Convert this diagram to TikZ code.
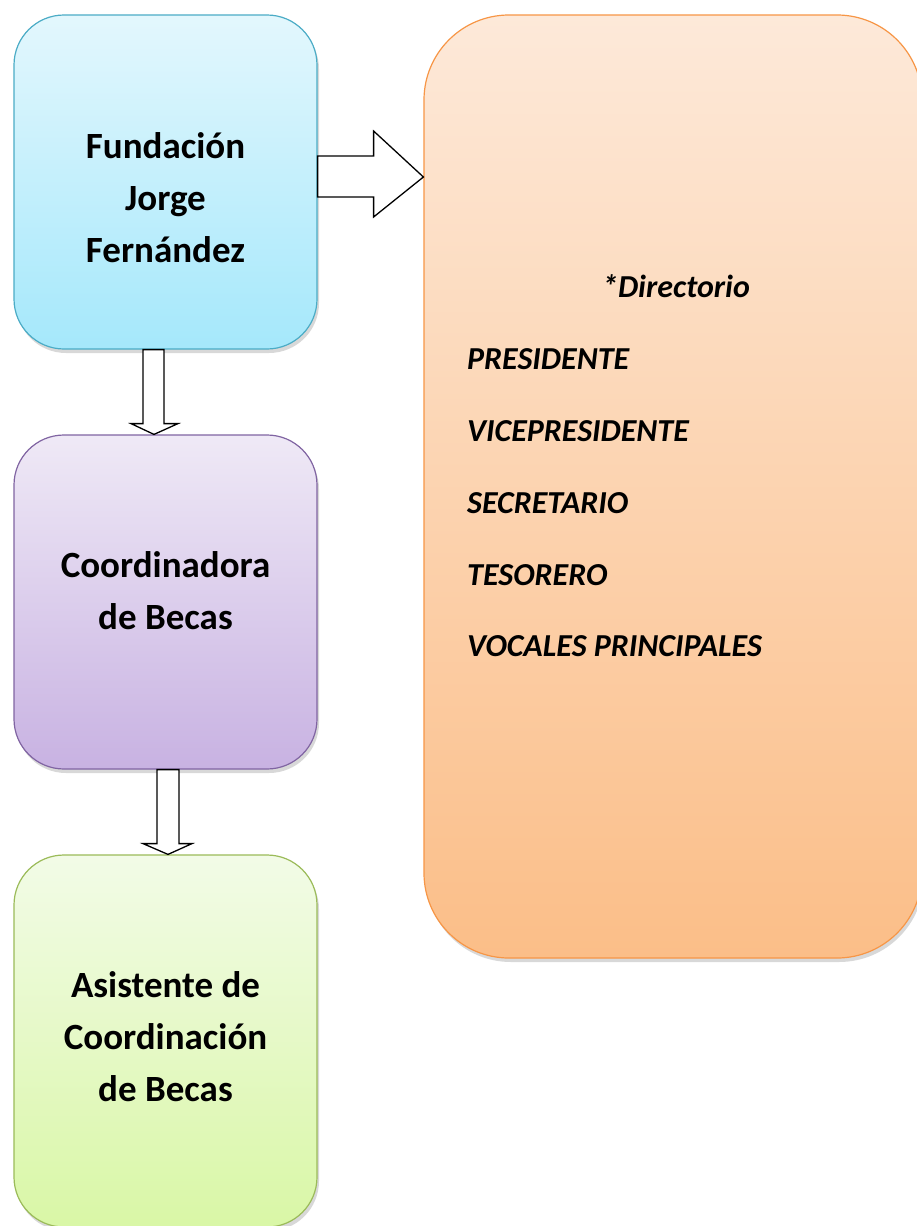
\documentclass[tikz,border=0pt]{standalone}
\usepackage{fontspec}
\setmainfont{Carlito}
\usetikzlibrary{shadows,calc}
\definecolor{bTop}{HTML}{E3F7FD}\definecolor{bBot}{HTML}{A5E8FB}\definecolor{bLine}{HTML}{4BACC6}
\definecolor{pTop}{HTML}{EFE9F6}\definecolor{pBot}{HTML}{C8B2E2}\definecolor{pLine}{HTML}{8064A2}
\definecolor{gTop}{HTML}{F2FBE7}\definecolor{gBot}{HTML}{D9F7A6}\definecolor{gLine}{HTML}{9BBB59}
\definecolor{oTop}{HTML}{FDE9D9}\definecolor{oBot}{HTML}{FBBE88}\definecolor{oLine}{HTML}{F79646}
\begin{document}
\begin{tikzpicture}[x=1pt,y=-1pt,
 box/.style={rounded corners=50pt, line width=1.2pt, minimum width=303pt, minimum height=334pt, inner sep=0pt,
   drop shadow={shadow xshift=2pt, shadow yshift=-4pt, opacity=0.3}},
 lbl/.style={font=\fontsize{37}{52}\selectfont\bfseries, align=center},
 itm/.style={font=\fontsize{32}{36}\selectfont\bfseries\itshape, anchor=west, inner sep=0pt},
 blk/.style={draw=black, fill=white, line width=1.3pt, line join=miter}]
\useasboundingbox (0,0) rectangle (917,1226);
\fill[white] (0,0) rectangle (917,1226);
\begin{scope}
\clip (0,0) rectangle (917,1226);
\node[box, draw=bLine, top color=bTop, bottom color=bBot] (f) at (165.5,182) {};
\node[box, draw=pLine, top color=pTop, bottom color=pBot] (c) at (165.5,602) {};
\node[box, draw=gLine, top color=gTop, bottom color=gBot, minimum height=372pt] (a) at (165.5,1041) {};
\node[box, draw=oLine, top color=oTop, bottom color=oBot, rounded corners=85pt, minimum width=498pt, minimum height=943pt] (d) at (673,486.5) {};
\end{scope}
\node[lbl] (ft) at (165.5,198) {Fundación\\Jorge\\Fernández};
\node[lbl] (ct) at (165.5,591) {Coordinadora\\de Becas};
\node[lbl] (at) at (165.5,1037) {Asistente de\\Coordinación\\de Becas};
\node[font=\fontsize{32}{36}\selectfont\bfseries\itshape] (dt) at (676,286) {*Directorio};
\node[itm] (d1) at (467,359) {PRESIDENTE};
\node[itm] (d2) at (467,431) {VICEPRESIDENTE};
\node[itm] (d3) at (467,503) {SECRETARIO};
\node[itm] (d4) at (467,575) {TESORERO};
\node[itm] (d5) at (467,646) {VOCALES PRINCIPALES};
% right block arrow from f to d
\draw[blk] ($(f.east)+(0,-26)$) -- ($(f.east)+(56,-26)$) -- ($(f.east)+(56,-51)$)
  -- ($(f.east-|d.west)+(0,-5)$) -- ($(f.east)+(56,35)$) -- ($(f.east)+(56,15)$) -- ($(f.east)+(0,15)$) -- cycle;
% down block arrow f -> c
\draw[blk] ($(f.south)+(-22.5,0)$) -- ($(f.south)+(-1.5,0)$) -- ($(f.south)+(-1.5,74)$) -- ($(f.south)+(12.5,74)$)
  -- ($(c.north)+(-11.5,0)$) -- ($(f.south)+(-34.5,74)$) -- ($(f.south)+(-22.5,74)$) -- cycle;
% down block arrow c -> a
\draw[blk] ($(c.south)+(-8.5,0)$) -- ($(c.south)+(13.5,0)$) -- ($(c.south)+(13.5,74)$) -- ($(c.south)+(26.5,74)$)
  -- ($(a.north)+(2.5,0)$) -- ($(c.south)+(-22.5,74)$) -- ($(c.south)+(-8.5,74)$) -- cycle;
\end{tikzpicture}
\end{document}
